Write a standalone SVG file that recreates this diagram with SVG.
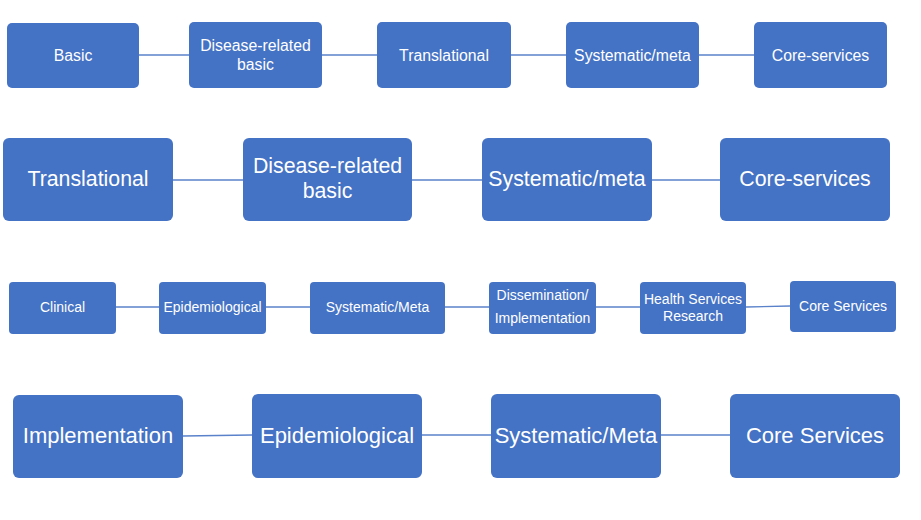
<svg xmlns="http://www.w3.org/2000/svg" width="921" height="520" viewBox="0 0 921 520">
<style>
.b{fill:#4472C4;}
.t{fill:#FFFFFF;font-family:"Liberation Sans",Arial,sans-serif;text-anchor:middle;}
.s1{font-size:15.8px;}
.s2{font-size:21.3px;}
.s3{font-size:14px;}
.s4{font-size:22px;}
.c{stroke:#5A82CA;stroke-width:1.3;fill:none;}
</style>
<rect width="921" height="520" fill="#FFFFFF"/>
<g id="connectors">
<line class="c" x1="139" y1="55" x2="189" y2="55"/>
<line class="c" x1="322" y1="55" x2="377" y2="55"/>
<line class="c" x1="511" y1="55" x2="566" y2="55"/>
<line class="c" x1="699" y1="55" x2="754" y2="55"/>
<line class="c" x1="173" y1="180" x2="243" y2="180"/>
<line class="c" x1="412" y1="180" x2="482" y2="180"/>
<line class="c" x1="652" y1="180" x2="720" y2="180"/>
<line class="c" x1="116" y1="307" x2="159" y2="307"/>
<line class="c" x1="266" y1="307" x2="310" y2="307"/>
<line class="c" x1="445" y1="307" x2="489" y2="307"/>
<line class="c" x1="596" y1="307" x2="640" y2="307"/>
<line class="c" x1="746" y1="307" x2="790" y2="306"/>
<line class="c" x1="183" y1="436" x2="252" y2="435"/>
<line class="c" x1="422" y1="435" x2="491" y2="435"/>
<line class="c" x1="661" y1="435" x2="730" y2="435"/>
</g>
<g id="r1-basic"><rect class="b" x="7" y="23" width="132" height="65" rx="5"/><text class="t s1" x="73" y="61">Basic</text></g>
<g id="r1-disease"><rect class="b" x="189" y="22" width="133" height="66" rx="5"/><text class="t s1" x="255.5" y="51">Disease-related</text><text class="t s1" x="255.5" y="70">basic</text></g>
<g id="r1-translational"><rect class="b" x="377" y="22" width="134" height="66" rx="5"/><text class="t s1" x="444" y="60.5">Translational</text></g>
<g id="r1-systematic"><rect class="b" x="566" y="22" width="133" height="66" rx="5"/><text class="t s1" x="632.5" y="60.5">Systematic/meta</text></g>
<g id="r1-core"><rect class="b" x="754" y="22" width="133" height="66" rx="5"/><text class="t s1" x="820.5" y="60.5">Core-services</text></g>

<g id="r2-translational"><rect class="b" x="3" y="138" width="170" height="83" rx="6"/><text class="t s2" x="88" y="186">Translational</text></g>
<g id="r2-disease"><rect class="b" x="243" y="138" width="169" height="83" rx="6"/><text class="t s2" x="327.5" y="173">Disease-related</text><text class="t s2" x="327.5" y="198">basic</text></g>
<g id="r2-systematic"><rect class="b" x="482" y="138" width="170" height="83" rx="6"/><text class="t s2" x="567" y="186">Systematic/meta</text></g>
<g id="r2-core"><rect class="b" x="720" y="138" width="170" height="83" rx="6"/><text class="t s2" x="805" y="186">Core-services</text></g>

<g id="r3-clinical"><rect class="b" x="9" y="282" width="107" height="52" rx="4"/><text class="t s3" x="62.5" y="312">Clinical</text></g>
<g id="r3-epidemiological"><rect class="b" x="159" y="282" width="107" height="52" rx="4"/><text class="t s3" x="212.5" y="312">Epidemiological</text></g>
<g id="r3-systematic"><rect class="b" x="310" y="282" width="135" height="52" rx="4"/><text class="t s3" x="377.5" y="312">Systematic/Meta</text></g>
<g id="r3-dissemination"><rect class="b" x="489" y="282" width="107" height="52" rx="4"/><text class="t s3" x="542.5" y="300">Dissemination/</text><text class="t s3" x="542.5" y="323">Implementation</text></g>
<g id="r3-health"><rect class="b" x="640" y="282" width="106" height="52" rx="4"/><text class="t s3" x="693" y="303.5">Health Services</text><text class="t s3" x="693" y="321">Research</text></g>
<g id="r3-core"><rect class="b" x="790" y="281" width="106" height="51" rx="4"/><text class="t s3" x="843" y="311">Core Services</text></g>

<g id="r4-implementation"><rect class="b" x="13" y="395" width="170" height="83" rx="6"/><text class="t s4" x="98" y="442.5">Implementation</text></g>
<g id="r4-epidemiological"><rect class="b" x="252" y="394" width="170" height="84" rx="6"/><text class="t s4" x="337" y="442.5">Epidemiological</text></g>
<g id="r4-systematic"><rect class="b" x="491" y="394" width="170" height="84" rx="6"/><text class="t s4" x="576" y="442.5">Systematic/Meta</text></g>
<g id="r4-core"><rect class="b" x="730" y="394" width="170" height="84" rx="6"/><text class="t s4" x="815" y="442.5">Core Services</text></g>
</svg>
